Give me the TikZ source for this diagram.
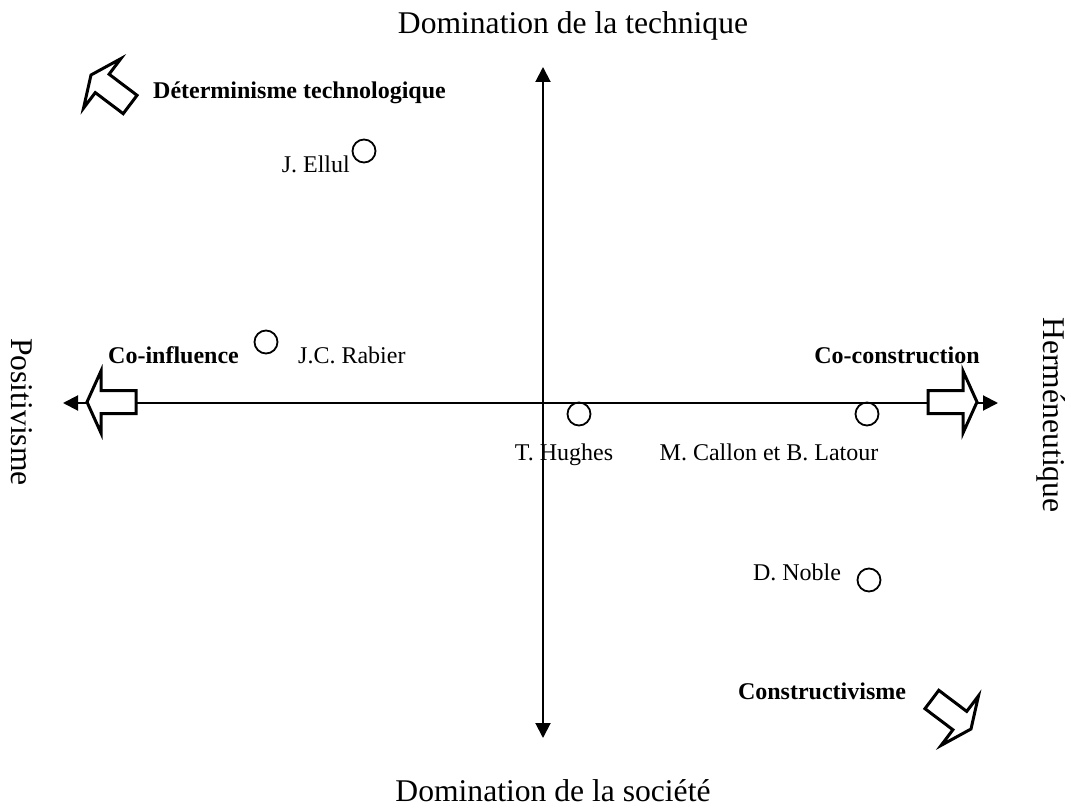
\documentclass[tikz,border=0pt]{standalone}
\usepackage{fontspec}
\setmainfont{Liberation Serif}
\usetikzlibrary{arrows.meta}

\tikzset{
  axis/.style={line width=2pt, {Triangle[length=15pt,width=15pt]}-{Triangle[length=15pt,width=15pt]}},
  author/.style={circle, draw, line width=1.8pt, minimum size=23pt, inner sep=0pt},
  biglabel/.style={inner sep=0pt, font=\fontsize{31.6}{36}\selectfont},
  personlabel/.style={inner sep=0pt, font=\fontsize{24}{28}\selectfont},
  school/.style={inner sep=0pt, font=\bfseries\fontsize{24}{28}\selectfont},
  blockarrow/.pic={
    \draw[line width=3pt, fill=white, line join=miter, miter limit=10]
      (0,0) -- (-14,31) -- (-14,11.5) -- (-49,11.5) -- (-49,-11.5)
      -- (-14,-11.5) -- (-14,-31) -- cycle;
  }
}

\begin{document}
\begin{tikzpicture}[x=1pt, y=-1pt]
\useasboundingbox (0,0) rectangle (1071,810);

% axes
\coordinate (west)  at (63,403);
\coordinate (east)  at (998,403);
\coordinate (north) at (543,67);
\coordinate (south) at (543,738);
\draw[axis] (west) -- (east);
\draw[axis] (south) -- (north);

% broad arrows showing the four tendencies
\pic[rotate=180] at (87,402) {blockarrow};
\pic at (977,402) {blockarrow};
\pic[rotate=143] at (91,75) {blockarrow};
\pic[rotate=-37] at (971,729) {blockarrow};

% axis titles
\node[biglabel, anchor=base] (tech) at (573,34) {Domination de la technique};
\node[biglabel, anchor=base] (soc) at (553,801) {Domination de la société};
\node[biglabel, rotate=-90] (pos) at (22,412) {Positivisme};
\node[biglabel, rotate=-90] (herm) at (1051,415) {Herméneutique};

% schools of thought
\node[school, anchor=base west] (det) at (153,99) {Déterminisme technologique};
\node[school, anchor=base west] (coinf) at (108,363) {Co-influence};
\node[school, anchor=base] (cocons) at (897,363) {Co-construction};
\node[school, anchor=base] (constr) at (822,699) {Constructivisme};

% authors
\node[author] (ellul) at (364,151) {};
\node[personlabel, anchor=base east] (ellulL) at (350,173) {J. Ellul};
\node[author] (rabier) at (266,342) {};
\node[personlabel, anchor=base west] (rabierL) at (298,363) {J.C. Rabier};
\node[author] (hughes) at (579,414) {};
\node[personlabel, anchor=base] (hughesL) at (564,460) {T. Hughes};
\node[author] (callon) at (867,414) {};
\node[personlabel, anchor=base] (callonL) at (769,460) {M. Callon et B. Latour};
\node[author] (noble) at (869,580) {};
\node[personlabel, anchor=base] (nobleL) at (797,580) {D. Noble};
\end{tikzpicture}
\end{document}
